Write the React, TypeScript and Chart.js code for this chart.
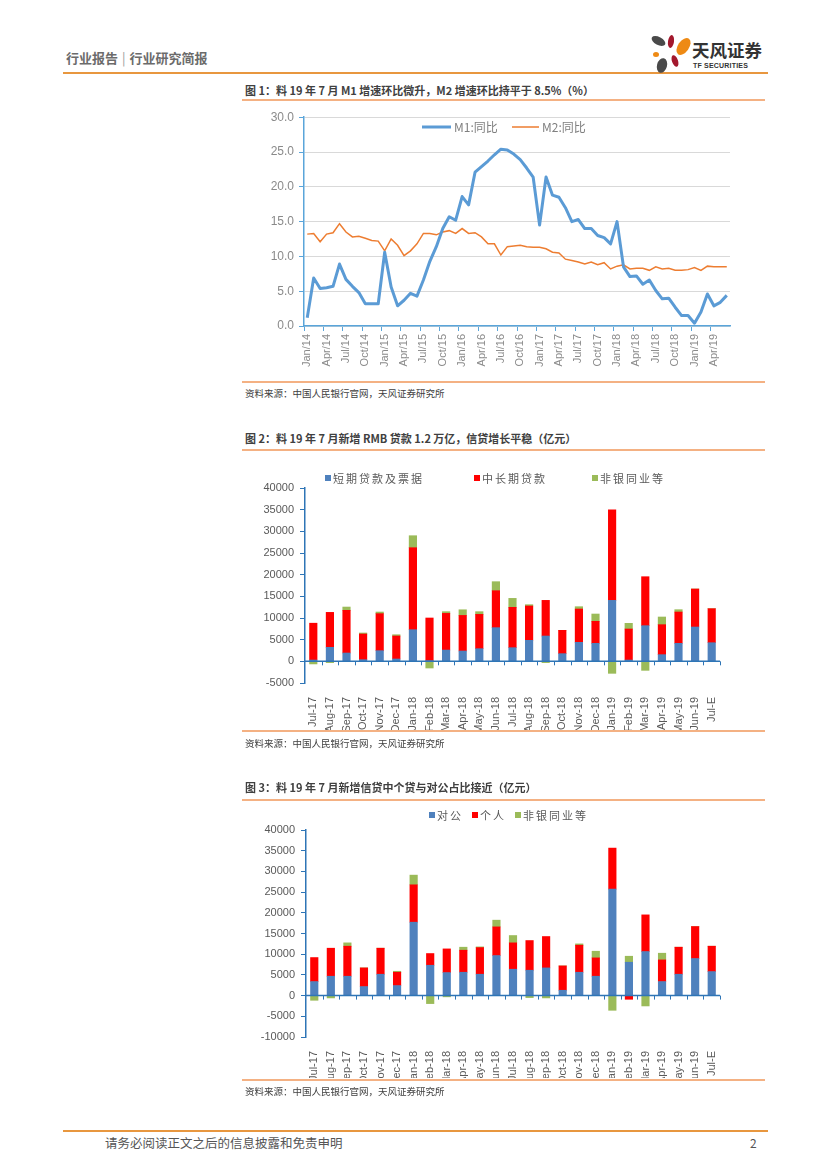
import React, { useEffect, useRef } from 'react';
import { Chart, registerables } from 'chart.js';

Chart.register(...registerables);

// ---------- Chart 1 data ----------
const monthLabels = [
  'Jan/14', 'Feb/14', 'Mar/14', 'Apr/14', 'May/14', 'Jun/14', 'Jul/14', 'Aug/14', 'Sep/14', 'Oct/14', 'Nov/14', 'Dec/14',
  'Jan/15', 'Feb/15', 'Mar/15', 'Apr/15', 'May/15', 'Jun/15', 'Jul/15', 'Aug/15', 'Sep/15', 'Oct/15', 'Nov/15', 'Dec/15',
  'Jan/16', 'Feb/16', 'Mar/16', 'Apr/16', 'May/16', 'Jun/16', 'Jul/16', 'Aug/16', 'Sep/16', 'Oct/16', 'Nov/16', 'Dec/16',
  'Jan/17', 'Feb/17', 'Mar/17', 'Apr/17', 'May/17', 'Jun/17', 'Jul/17', 'Aug/17', 'Sep/17', 'Oct/17', 'Nov/17', 'Dec/17',
  'Jan/18', 'Feb/18', 'Mar/18', 'Apr/18', 'May/18', 'Jun/18', 'Jul/18', 'Aug/18', 'Sep/18', 'Oct/18', 'Nov/18', 'Dec/18',
  'Jan/19', 'Feb/19', 'Mar/19', 'Apr/19', 'May/19', 'Jun/19',
];
const m1Values = [
  1.2, 6.9, 5.4, 5.5, 5.7, 8.9, 6.7, 5.7, 4.8, 3.2, 3.2, 3.2,
  10.6, 5.6, 2.9, 3.7, 4.7, 4.3, 6.6, 9.3, 11.4, 14.0, 15.7, 15.2,
  18.6, 17.4, 22.1, 22.9, 23.7, 24.6, 25.4, 25.3, 24.7, 23.9, 22.7, 21.4,
  14.5, 21.4, 18.8, 18.5, 17.0, 15.0, 15.3, 14.0, 14.0, 13.0, 12.7, 11.8,
  15.0, 8.5, 7.1, 7.2, 6.0, 6.6, 5.1, 3.9, 4.0, 2.7, 1.5, 1.5,
  0.4, 2.0, 4.6, 2.9, 3.4, 4.4,
];
const m2Values = [
  13.2, 13.3, 12.1, 13.2, 13.4, 14.7, 13.5, 12.8, 12.9, 12.6, 12.3, 12.2,
  10.8, 12.5, 11.6, 10.1, 10.8, 11.8, 13.3, 13.3, 13.1, 13.5, 13.7, 13.3,
  14.0, 13.3, 13.4, 12.8, 11.8, 11.8, 10.2, 11.4, 11.5, 11.6, 11.4, 11.3,
  11.3, 11.1, 10.6, 10.5, 9.6, 9.4, 9.2, 8.9, 9.2, 8.8, 9.1, 8.2,
  8.6, 8.8, 8.2, 8.3, 8.3, 8.0, 8.5, 8.2, 8.3, 8.0, 8.0, 8.1,
  8.4, 8.0, 8.6, 8.5, 8.5, 8.5,
];

// ---------- Chart 2 & 3 categories ----------
const barLabels = [
  'Jul-17', 'Aug-17', 'Sep-17', 'Oct-17', 'Nov-17', 'Dec-17', 'Jan-18', 'Feb-18', 'Mar-18', 'Apr-18', 'May-18', 'Jun-18',
  'Jul-18', 'Aug-18', 'Sep-18', 'Oct-18', 'Nov-18', 'Dec-18', 'Jan-19', 'Feb-19', 'Mar-19', 'Apr-19', 'May-19', 'Jun-19', 'Jul-E',
];

// Chart 2: 短期贷款及票据 / 中长期贷款 / 非银同业等
const shortTermLoans = [
  300, 3230, 1920, 380, 2460, 540, 7300, 150, 2600, 2380, 2920, 7770,
  3150, 4850, 5840, 1770, 4380, 4150, 14070, 300, 8230, 1540, 4150, 7920, 4300,
];
const midLongLoans = [
  8500, 8070, 9850, 5920, 8540, 5300, 18920, 9850, 8470, 8220, 7920, 8530,
  9310, 7920, 8230, 5380, 7690, 5080, 20920, 7160, 11300, 6920, 7230, 8770, 7850,
];
const nonBankOther2 = [
  -600, -300, 760, 240, 380, 300, 2770, -1540, 390, 1300, 620, 2080,
  2070, 300, -300, 0, 540, 1690, -2770, 1310, -2080, 1770, 540, 0, 0,
];

// Chart 3: 对公 / 个人 / 非银同业等
const corporateLoans = [
  3390, 4680, 4680, 2180, 5160, 2420, 17730, 7330, 5560, 5640, 5160, 9670,
  6370, 6130, 6690, 1290, 5640, 4680, 25710, 8060, 10640, 3390, 5160, 8950, 5800,
];
const householdLoans = [
  5800, 6770, 7250, 4510, 6290, 3220, 9030, 2830, 5720, 5320, 6440, 6930,
  6370, 7170, 7580, 5880, 6530, 4430, 9920, -890, 8860, 5230, 6530, 7730, 6130,
];
const nonBankOther3 = [
  -1130, -560, 810, 0, 0, 240, 2340, -1930, -300, 730, 170, 1620,
  1770, -480, -560, 0, 320, 1610, -3550, 1450, -2500, 1620, 0, 0, 0,
];

const CJK = '"Noto Sans CJK SC", "Noto Sans", sans-serif';
const TICKFONT = '"Liberation Sans", Arial, sans-serif';

const BLUE = '#4F81BD';
const RED = '#FF0000';
const GREEN = '#9BBB59';
const AXIS2 = '#2E75B6';
const AXIS1 = '#5AA5DA';

// Legend drawn at fixed spots on the canvas
const fixedLegend = {
  id: 'fixedLegend',
  afterDraw(chart: any, _args: any, opts: any) {
    const ctx = chart.ctx;
    ctx.save();
    for (const it of opts.items || []) {
      ctx.font = opts.font;
      ctx.fillStyle = opts.textColor;
      ctx.textBaseline = 'middle';
      ctx.textAlign = 'left';
      if (it.type === 'line') {
        ctx.strokeStyle = it.color;
        ctx.lineWidth = it.lineWidth;
        ctx.beginPath();
        ctx.moveTo(it.x, it.y);
        ctx.lineTo(it.x + it.len, it.y);
        ctx.stroke();
        (ctx as any).letterSpacing = opts.letterSpacing || '0px';
        ctx.fillText(it.text, it.x + it.len + 3, it.y);
      } else {
        ctx.fillStyle = it.color;
        ctx.fillRect(it.x, it.y - 3, 6, 6);
        ctx.fillStyle = opts.textColor;
        (ctx as any).letterSpacing = opts.letterSpacing || '0px';
        ctx.fillText(it.text, it.x + 8, it.y + 0.5);
      }
    }
    ctx.restore();
  },
};

// Horizontal axis line at value 0 with category tick marks
const zeroAxis = {
  id: 'zeroAxis',
  afterDatasetsDraw(chart: any, _args: any, opts: any) {
    const { ctx, chartArea, scales } = chart;
    const y0 = scales.y.getPixelForValue(0);
    const n = chart.data.labels.length;
    const w = (chartArea.right - chartArea.left) / n;
    ctx.save();
    ctx.strokeStyle = opts.color;
    ctx.lineWidth = 1.5;
    ctx.beginPath();
    ctx.moveTo(chartArea.left, y0);
    ctx.lineTo(chartArea.right, y0);
    ctx.stroke();
    ctx.lineWidth = 1;
    ctx.beginPath();
    for (let i = 1; i <= n; i++) {
      const px = Math.round(chartArea.left + i * w) + 0.5;
      ctx.moveTo(px, y0);
      ctx.lineTo(px, y0 + 4);
    }
    ctx.stroke();
    ctx.restore();
  },
};

function LineChart() {
  const ref = useRef<HTMLCanvasElement>(null);
  useEffect(() => {
    const chart = new Chart(ref.current!, {
      type: 'line',
      data: {
        labels: monthLabels,
        datasets: [
          { label: 'M1:同比', data: m1Values, borderColor: '#5B9BD5', borderWidth: 3, pointRadius: 0, tension: 0, borderJoinStyle: 'round' },
          { label: 'M2:同比', data: m2Values, borderColor: '#ED7D31', borderWidth: 1.5, pointRadius: 0, tension: 0 },
        ],
      },
      options: {
        responsive: false,
        animation: false,
        layout: { padding: { top: 12, right: 40, left: 0, bottom: 0 } },
        plugins: {
          legend: { display: false },
          tooltip: { enabled: false },
          fixedLegend: {
            font: `12px ${CJK}`,
            textColor: '#7f7f7f',
            items: [
              { type: 'line', x: 182, y: 22, len: 29, color: '#5B9BD5', lineWidth: 3, text: 'M1:同比' },
              { type: 'line', x: 272, y: 22, len: 27, color: '#ED7D31', lineWidth: 1.5, text: 'M2:同比' },
            ],
          },
        } as any,
        scales: {
          x: {
            offset: true,
            border: { color: AXIS1, width: 1.5 },
            grid: {
              display: true,
              offset: true,
              drawOnChartArea: false,
              tickLength: 5,
              tickColor: (c: any) => (c.index % 3 === 0 ? AXIS1 : 'rgba(0,0,0,0)'),
            },
            ticks: {
              autoSkip: false,
              minRotation: 90,
              maxRotation: 90,
              padding: 3,
              color: '#8a8a8a',
              font: { family: TICKFONT, size: 11 },
              callback: (_v: any, i: number) => (i % 3 === 0 ? monthLabels[i] : ''),
            },
            afterFit: (s: any) => { s.height = 54; },
          },
          y: {
            min: 0,
            max: 30,
            border: { color: AXIS1, width: 1.5 },
            grid: { color: '#d9d9d9', tickColor: AXIS1, tickLength: 5, lineWidth: 1 },
            ticks: {
              stepSize: 5,
              padding: 5,
              color: '#8a8a8a',
              font: { family: TICKFONT, size: 12 },
              callback: (v: any) => Number(v).toFixed(1),
            },
            afterFit: (s: any) => { s.width = 64; },
          },
        },
      },
      plugins: [fixedLegend],
    } as any);
    return () => chart.destroy();
  }, []);
  return <canvas ref={ref} width={530} height={275} style={{ position: 'absolute', left: 240, top: 105 }} />;
}

function StackedBar(props: {
  top: number; height: number; min: number; names: string[]; series: number[][]; legend: any[]; padTop: number; xHeight: number; yWidth: number; padBottom: number;
}) {
  const ref = useRef<HTMLCanvasElement>(null);
  useEffect(() => {
    const colors = [BLUE, RED, GREEN];
    const chart = new Chart(ref.current!, {
      type: 'bar',
      data: {
        labels: barLabels,
        datasets: props.series.map((d, i) => ({
          label: props.names[i],
          data: d,
          backgroundColor: colors[i],
          borderWidth: 0,
          barThickness: 7.5,
          stack: 's',
        })),
      },
      options: {
        responsive: false,
        animation: false,
        layout: { padding: { top: props.padTop, right: 50, left: 0, bottom: props.padBottom } },
        plugins: {
          legend: { display: false },
          tooltip: { enabled: false },
          fixedLegend: {
            font: `11px ${CJK}`,
            textColor: '#595959',
            letterSpacing: '2px',
            items: props.legend,
          },
          zeroAxis: { color: AXIS2 },
        } as any,
        scales: {
          x: {
            stacked: true,
            border: { display: false },
            grid: { display: false },
            ticks: {
              autoSkip: false,
              minRotation: 90,
              maxRotation: 90,
              padding: 6,
              color: '#595959',
              font: { family: TICKFONT, size: 11 },
            },
            afterFit: (s: any) => { s.height = props.xHeight; },
          },
          y: {
            stacked: true,
            min: props.min,
            max: 40000,
            border: { color: AXIS2, width: 1.5 },
            grid: { drawOnChartArea: false, color: AXIS2, tickLength: 5 },
            ticks: {
              stepSize: 5000,
              padding: 6,
              color: '#595959',
              font: { family: TICKFONT, size: 11 },
              callback: (v: any) => String(v),
            },
            afterFit: (s: any) => { s.width = props.yWidth; },
          },
        },
      },
      plugins: [fixedLegend, zeroAxis],
    } as any);
    return () => chart.destroy();
  }, []);
  return <canvas ref={ref} width={530} height={props.height} style={{ position: 'absolute', left: 240, top: props.top }} />;
}

function Txt(p: { x: number; cy: number; size: number; color: string; bold?: boolean; children: any; spacing?: number }) {
  return (
    <div
      style={{
        position: 'absolute',
        left: p.x,
        top: p.cy - 10,
        lineHeight: '20px',
        fontSize: p.size,
        color: p.color,
        fontWeight: p.bold ? 700 : 400,
        whiteSpace: 'nowrap',
        fontFamily: CJK,
        letterSpacing: p.spacing ? p.spacing : 0,
      }}
    >
      {p.children}
    </div>
  );
}

function HLine(p: { x1: number; x2: number; y: number; color: string; w: number }) {
  return <div style={{ position: 'absolute', left: p.x1, top: p.y - p.w / 2, width: p.x2 - p.x1, height: p.w, background: p.color }} />;
}

function Petal(p: { cx: number; cy: number; w: number; h: number; rot: number; color: string }) {
  return (
    <div
      style={{
        position: 'absolute',
        left: p.cx - p.w / 2,
        top: p.cy - p.h / 2,
        width: p.w,
        height: p.h,
        borderRadius: '50%',
        background: p.color,
        transform: `rotate(${p.rot}deg)`,
      }}
    />
  );
}

export default function App() {
  useEffect(() => {
    document.body.style.margin = '0';
  }, []);
  const src = '资料来源：中国人民银行官网，天风证券研究所';
  return (
    <div style={{ position: 'absolute', left: 0, top: 0, width: 827, height: 1170, background: '#fff', overflow: 'hidden', fontFamily: CJK }}>
      {/* header */}
      <Txt x={66} cy={58} size={13} color="#6b6b6b" bold>
        行业报告<span style={{ fontWeight: 400, margin: '0 4px', color: '#999' }}>|</span>行业研究简报
      </Txt>
      <HLine x1={63} x2={768} y={73} color="#E8973F" w={2.5} />
      {/* logo */}
      <Petal cx={658} cy={41} w={15} h={8} rot={28} color="#4a4a4a" />
      <Petal cx={671} cy={41} w={6} h={13} rot={8} color="#A3182D" />
      <Petal cx={683} cy={46} w={11} h={19} rot={35} color="#EE8A14" />
      <Petal cx={656} cy={54} w={6} h={5} rot={0} color="#EE8A14" />
      <Petal cx={675} cy={61} w={6} h={12} rot={-20} color="#A3182D" />
      <Petal cx={662} cy={65} w={10} h={15} rot={15} color="#4a4a4a" />
      <Txt x={692} cy={50} size={17.5} color="#333" bold>天风证券</Txt>
      <div style={{ position: 'absolute', left: 693, top: 62, fontSize: 7, fontWeight: 700, color: '#333', fontFamily: '"Liberation Sans", sans-serif', lineHeight: '8px', letterSpacing: 0.2 }}>
        TF SECURITIES
      </div>

      {/* figure 1 */}
      <Txt x={245} cy={90} size={11} color="#404040" bold>图 1：料 19 年 7 月 M1 增速环比微升，M2 增速环比持平于 8.5%（%）</Txt>
      <HLine x1={242} x2={765} y={100} color="#F4B183" w={2} />
      <LineChart />
      <HLine x1={242} x2={765} y={382} color="#F4B183" w={1.5} />
      <Txt x={245} cy={393} size={9.5} color="#404040">{src}</Txt>

      {/* figure 2 */}
      <Txt x={245} cy={438} size={11} color="#404040" bold>图 2：料 19 年 7 月新增 RMB 贷款 1.2 万亿，信贷增长平稳（亿元）</Txt>
      <HLine x1={242} x2={765} y={450} color="#F4B183" w={2} />
      <StackedBar
        top={460}
        height={286}
        min={-5000}
        padTop={28}
        padBottom={14}
        xHeight={49}
        yWidth={65}
        names={['短期贷款及票据', '中长期贷款', '非银同业等']}
        series={[shortTermLoans, midLongLoans, nonBankOther2]}
        legend={[
          { type: 'box', x: 85, y: 18, color: BLUE, text: '短期贷款及票据' },
          { type: 'box', x: 234, y: 18, color: RED, text: '中长期贷款' },
          { type: 'box', x: 352, y: 18, color: GREEN, text: '非银同业等' },
        ]}
      />
      <HLine x1={242} x2={765} y={731} color="#F4B183" w={1.5} />
      <Txt x={245} cy={743} size={9.5} color="#404040">{src}</Txt>

      {/* figure 3 */}
      <Txt x={245} cy={787} size={11} color="#404040" bold>图 3：料 19 年 7 月新增信贷中个贷与对公占比接近（亿元）</Txt>
      <HLine x1={242} x2={765} y={800} color="#F4B183" w={2} />
      <StackedBar
        top={805}
        height={288}
        min={-10000}
        padTop={25}
        padBottom={15}
        xHeight={41}
        yWidth={66}
        names={['对公', '个人', '非银同业等']}
        series={[corporateLoans, householdLoans, nonBankOther3]}
        legend={[
          { type: 'box', x: 189, y: 10, color: BLUE, text: '对公' },
          { type: 'box', x: 232, y: 10, color: RED, text: '个人' },
          { type: 'box', x: 275, y: 10, color: GREEN, text: '非银同业等' },
        ]}
      />
      <HLine x1={242} x2={765} y={1080} color="#F4B183" w={1.5} />
      <Txt x={245} cy={1091} size={9.5} color="#404040">{src}</Txt>

      {/* footer */}
      <HLine x1={63} x2={768} y={1131} color="#E8973F" w={2.5} />
      <Txt x={105} cy={1143} size={12.5} color="#555">请务必阅读正文之后的信息披露和免责申明</Txt>
      <Txt x={750} cy={1143} size={12} color="#555">2</Txt>
    </div>
  );
}
